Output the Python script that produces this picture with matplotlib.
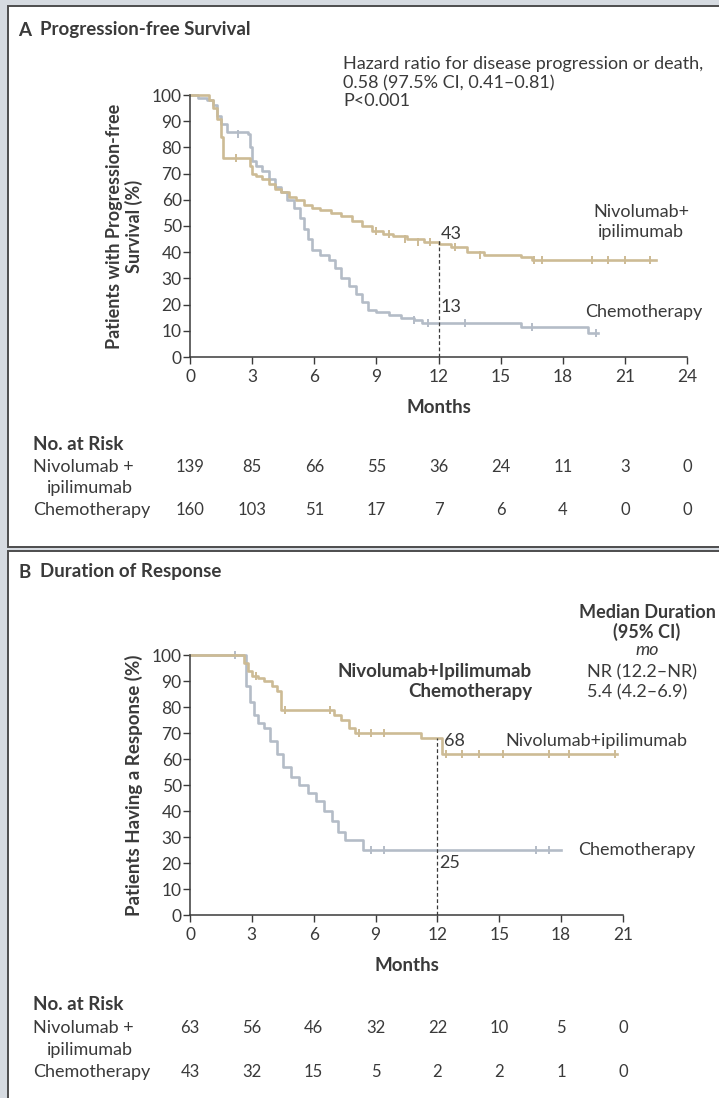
import matplotlib
matplotlib.use("Agg")
import matplotlib.pyplot as plt
import matplotlib.patches as mpatches

plt.rcParams["font.family"] = ["Lato", "DejaVu Sans"]

W, H = 719, 1098
INK = "#3a3a3a"
NIVO = "#cdbb95"
CHEMO = "#b4bcc7"
FS = 13

# --- Panel A: progression-free survival (months, %)
pfs_nivo_t = [0, 0.9, 1.1, 1.3, 1.5, 1.6, 2.9, 3.0, 3.2, 3.5, 3.8, 4.1, 4.4, 4.8, 5.1, 5.5, 5.9,
              6.3, 6.8, 7.3, 7.8, 8.3, 8.8, 9.3, 9.8, 10.5, 11.3, 12.0, 12.6, 13.4, 14.2, 16.0,
              16.5, 22.5]
pfs_nivo_s = [100, 98, 95, 91, 84, 76, 73, 70, 69, 68, 66, 64, 63, 61, 60, 58, 57,
              56, 55, 54, 52, 50, 48, 47, 46, 45, 44, 43, 42, 40, 39, 38,
              37, 37]
pfs_chemo_t = [0, 0.4, 0.8, 1.1, 1.3, 1.5, 1.8, 2.8, 2.9, 3.0, 3.2, 3.5, 3.8, 4.1, 4.4, 4.7,
               5.0, 5.3, 5.5, 5.7, 5.9, 6.3, 6.7, 7.0, 7.3, 7.7, 8.0, 8.3, 8.6, 9.0, 9.6,
               10.2, 10.8, 11.2, 16.0, 19.2, 19.7]
pfs_chemo_s = [100, 99, 98, 96, 92, 89, 86, 85, 80, 75, 73, 71, 68, 65, 63, 60,
               57, 53, 49, 45, 41, 39, 37, 34, 30, 27, 24, 21, 18, 17, 16,
               15, 14, 13, 11.5, 9, 9]
pfs_nivo_cens_t = [2.2, 9.0, 9.6, 10.4, 11.0, 11.6, 12.8, 14.0, 16.6, 17.0, 19.4, 20.2, 21.0, 22.2]
pfs_nivo_cens_s = [76, 48, 47, 45, 44, 44, 42, 39, 37, 37, 37, 37, 37, 37]
pfs_chemo_cens_t = [2.3, 10.8, 11.5, 13.3, 16.5, 19.6]
pfs_chemo_cens_s = [85, 14, 13, 13, 11.5, 9]

pfs_risk_nivo = [139, 85, 66, 55, 36, 24, 11, 3, 0]
pfs_risk_chemo = [160, 103, 51, 17, 7, 6, 4, 0, 0]
pfs_ticks = [0, 3, 6, 9, 12, 15, 18, 21, 24]

# --- Panel B: duration of response (months, %)
dor_nivo_t = [0, 2.6, 2.8, 3.0, 3.3, 3.6, 4.0, 4.2, 4.4, 7.0, 7.3, 7.7, 8.0, 11.2, 12.2, 20.7]
dor_nivo_s = [100, 97, 94, 92, 91, 90, 88, 86, 79, 77, 75, 72, 70, 68, 62, 62]
dor_chemo_t = [0, 2.7, 2.9, 3.1, 3.3, 3.6, 3.9, 4.2, 4.5, 4.9, 5.3, 5.7, 6.1, 6.5, 6.9, 7.2,
               7.5, 8.4, 18.0]
dor_chemo_s = [100, 88, 82, 77, 74, 72, 67, 62, 57, 53, 50, 47, 44, 40, 36, 32,
               29, 25, 25]
dor_nivo_cens_t = [3.2, 4.6, 6.8, 8.2, 8.8, 9.4, 12.4, 13.2, 14.0, 15.2, 17.4, 18.4, 20.6]
dor_nivo_cens_s = [92, 79, 79, 70, 70, 70, 62, 62, 62, 62, 62, 62, 62]
dor_chemo_cens_t = [2.2, 8.8, 9.4, 16.8, 17.4]
dor_chemo_cens_s = [100, 25, 25, 25, 25]

dor_risk_nivo = [63, 56, 46, 32, 22, 10, 5, 0]
dor_risk_chemo = [43, 32, 15, 5, 2, 2, 1, 0]
dor_ticks = [0, 3, 6, 9, 12, 15, 18, 21]


def fx(x):
    return x / W


def fy(y):
    return 1 - y / H


def box(l, t, r, b):
    return [l / W, 1 - b / H, (r - l) / W, (b - t) / H]


def txt(x, y, s, **kw):
    kw.setdefault("color", INK)
    kw.setdefault("va", "center")
    kw.setdefault("fontsize", FS)
    fig.text(fx(x), fy(y), s, **kw)


def km_axes(rect, xmax, ticks):
    ax = fig.add_axes(rect)
    ax.set_xlim(0, xmax)
    ax.set_ylim(0, 100)
    ax.patch.set_alpha(0)
    for side in ("top", "right"):
        ax.spines[side].set_visible(False)
    for side in ("left", "bottom"):
        ax.spines[side].set_color(INK)
        ax.spines[side].set_linewidth(1.1)
    ax.set_xticks(ticks)
    ax.set_yticks(range(0, 101, 10))
    ax.tick_params(colors=INK, labelcolor=INK, labelsize=12.5, length=5, width=1.0)
    ax.tick_params(axis="x", pad=4)
    ax.tick_params(axis="y", pad=1)
    return ax


def km_line(ax, t, s, color, ct, cs):
    ax.step(t, s, where="post", color=color, linewidth=1.9, clip_on=False)
    ax.plot(ct, cs, linestyle="none", marker="|", markersize=6, color=color,
            markeredgewidth=1.4, clip_on=False)


fig = plt.figure(figsize=(W / 100, H / 100), dpi=100)
fig.patch.set_facecolor("#d6dbe1")

# white panels with dark frame, kept behind the axes
for top, bottom in ((6, 547), (551, 1100)):
    fig.patches.append(mpatches.Rectangle((fx(8), fy(bottom)), fx(720), (bottom - top) / H,
                                          transform=fig.transFigure, facecolor="white",
                                          edgecolor="#4d4d4d", linewidth=1.4, zorder=-5))

# ---------------- Panel A
txt(18, 30, "A", fontweight="bold", fontsize=13.5)
txt(40, 30, "Progression-free Survival", fontweight="bold", fontsize=13.5)
txt(343, 64, "Hazard ratio for disease progression or death,")
txt(343, 83, "0.58 (97.5% CI, 0.41\u20130.81)")
txt(343, 101, "P<0.001")

axA = km_axes(box(190, 95, 687, 357), 24, pfs_ticks)
km_line(axA, pfs_chemo_t, pfs_chemo_s, CHEMO, pfs_chemo_cens_t, pfs_chemo_cens_s)
km_line(axA, pfs_nivo_t, pfs_nivo_s, NIVO, pfs_nivo_cens_t, pfs_nivo_cens_s)
axA.plot([12, 12], [0, 45], color=INK, linestyle=(0, (3, 2)), linewidth=0.9)
axA.text(12.1, 47, "43", color=INK, fontsize=FS, va="center")
axA.text(12.1, 19, "13", color=INK, fontsize=FS, va="center")
axA.text(21.8, 51.5, "Nivolumab+\nipilimumab", color=INK, fontsize=FS, va="center",
         ha="center", linespacing=1.25)
axA.text(21.9, 17, "Chemotherapy", color=INK, fontsize=FS, va="center", ha="center")
axA.set_xlabel("Months", fontsize=13.5, fontweight="bold", color=INK, labelpad=10)
axA.set_ylabel("Patients with Progression-free\nSurvival (%)", fontsize=13,
               fontweight="bold", color=INK, labelpad=6, linespacing=1.15)

txt(33, 445, "No. at Risk", fontweight="bold", fontsize=13.5)
txt(33, 467, "Nivolumab +")
txt(47, 488, "ipilimumab")
txt(33, 510, "Chemotherapy")
for k, m in enumerate(pfs_ticks):
    xp = 190 + m * (687 - 190) / 24
    txt(xp, 467, str(pfs_risk_nivo[k]), ha="center", fontsize=12)
    txt(xp, 510, str(pfs_risk_chemo[k]), ha="center", fontsize=12)

# ---------------- Panel B
txt(18, 572, "B", fontweight="bold", fontsize=13.5)
txt(40, 572, "Duration of Response", fontweight="bold", fontsize=13.5)
txt(647, 612, "Median Duration", fontweight="bold", fontsize=13, ha="center")
txt(647, 632, "(95% CI)", fontweight="bold", fontsize=13, ha="center")
txt(647, 650, "mo", style="italic", ha="center")
txt(532, 672, "Nivolumab+Ipilimumab", fontweight="bold", fontsize=13.5, ha="right")
txt(532, 692, "Chemotherapy", fontweight="bold", fontsize=13.5, ha="right")
txt(587, 672, "NR (12.2\u2013NR)")
txt(587, 692, "5.4 (4.2\u20136.9)")

axB = km_axes(box(190, 655, 623, 915), 21, dor_ticks)
km_line(axB, dor_chemo_t, dor_chemo_s, CHEMO, dor_chemo_cens_t, dor_chemo_cens_s)
km_line(axB, dor_nivo_t, dor_nivo_s, NIVO, dor_nivo_cens_t, dor_nivo_cens_s)
axB.plot([12, 12], [0, 68], color=INK, linestyle=(0, (3, 2)), linewidth=0.9)
axB.text(12.3, 67, "68", color=INK, fontsize=FS, va="center")
axB.text(12.1, 20, "25", color=INK, fontsize=FS, va="center")
axB.text(15.3, 67, "Nivolumab+ipilimumab", color=INK, fontsize=FS, va="center")
axB.text(18.8, 25, "Chemotherapy", color=INK, fontsize=FS, va="center")
axB.set_xlabel("Months", fontsize=13.5, fontweight="bold", color=INK, labelpad=10)
axB.set_ylabel("Patients Having a Response (%)", fontsize=13.5, fontweight="bold",
               color=INK, labelpad=6)

txt(33, 1005, "No. at Risk", fontweight="bold", fontsize=13.5)
txt(33, 1028, "Nivolumab +")
txt(47, 1050, "ipilimumab")
txt(33, 1072, "Chemotherapy")
for k, m in enumerate(dor_ticks):
    xp = 190 + m * (623 - 190) / 21
    txt(xp, 1028, str(dor_risk_nivo[k]), ha="center", fontsize=12)
    txt(xp, 1072, str(dor_risk_chemo[k]), ha="center", fontsize=12)

fig.savefig("out.png", dpi=100, facecolor=fig.get_facecolor())
